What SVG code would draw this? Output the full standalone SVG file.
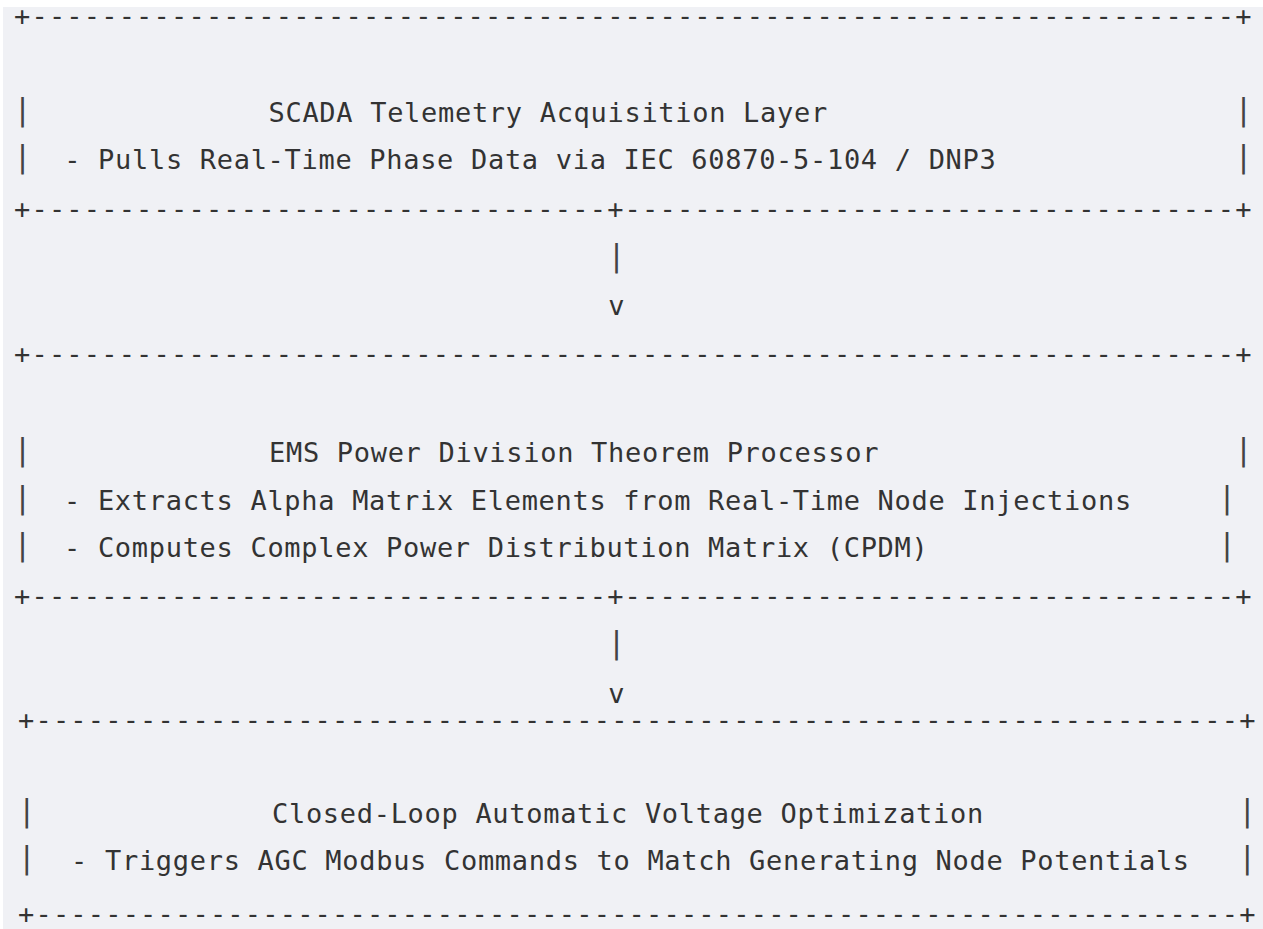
<svg xmlns="http://www.w3.org/2000/svg" width="1263" height="929" viewBox="0 0 1263 929">
  <style>
    .t { font-family: "DejaVu Sans Mono", "Liberation Mono", monospace; font-size: 27px; fill: #333; }
    .txt { letter-spacing: 0.695px; }
    .rule { letter-spacing: 1.19px; }
    .bar { font-family: "DejaVu Sans Mono", "Liberation Mono", monospace; font-size: 30px; fill: #444; text-anchor: middle; }
    .mid { text-anchor: middle; }
  </style>

  <!-- page and code panel -->
  <rect x="0" y="0" width="1263" height="929" fill="#ffffff"/>
  <rect x="3" y="7" width="1260" height="922" fill="#f0f1f5"/>

  <!-- SCADA layer -->
  <g id="node-scada">
    <text class="t rule" x="14" y="24.8">+---------------------------------------------------------------------+</text>
    <text class="bar" x="22.5" y="120">|</text>
    <text class="t txt" x="268.5" y="122">SCADA Telemetry Acquisition Layer</text>
    <text class="bar" x="1243.5" y="120">|</text>
    <text class="bar" x="22.5" y="167">|</text>
    <text class="t txt" x="64.2" y="168.5">- Pulls Real-Time Phase Data via IEC 60870-5-104 / DNP3</text>
    <text class="bar" x="1243.5" y="167">|</text>
    <text class="t rule" x="14" y="217.5">+---------------------------------+-----------------------------------+</text>
  </g>

  <!-- EMS processor -->
  <g id="node-ems">
    <text class="t rule" x="14" y="362.5">+---------------------------------------------------------------------+</text>
    <text class="bar" x="22.5" y="460">|</text>
    <text class="t txt" x="269" y="462">EMS Power Division Theorem Processor</text>
    <text class="bar" x="1243.5" y="460">|</text>
    <text class="bar" x="22.5" y="508">|</text>
    <text class="t txt" x="64" y="510">- Extracts Alpha Matrix Elements from Real-Time Node Injections</text>
    <text class="bar" x="1227" y="508">|</text>
    <text class="bar" x="22.5" y="555">|</text>
    <text class="t txt" x="64" y="557">- Computes Complex Power Distribution Matrix (CPDM)</text>
    <text class="bar" x="1227" y="555">|</text>
    <text class="t rule" x="14" y="605">+---------------------------------+-----------------------------------+</text>
  </g>

  <!-- Voltage optimisation loop -->
  <g id="node-avo">
    <text class="t rule" x="18" y="729">+---------------------------------------------------------------------+</text>
    <text class="bar" x="26.7" y="821">|</text>
    <text class="t txt" x="272" y="823">Closed-Loop Automatic Voltage Optimization</text>
    <text class="bar" x="1247.3" y="821">|</text>
    <text class="bar" x="26.7" y="868">|</text>
    <text class="t txt" x="71.1" y="870">- Triggers AGC Modbus Commands to Match Generating Node Potentials</text>
    <text class="bar" x="1247.3" y="868">|</text>
    <text class="t rule" x="18" y="922.5">+---------------------------------------------------------------------+</text>
  </g>

  <!-- flow arrows between layers -->
  <g id="connectors">
    <text class="bar" x="616.5" y="266">|</text>
    <text class="t mid" x="616.5" y="315">v</text>
    <text class="bar" x="616.5" y="653">|</text>
    <text class="t mid" x="616.5" y="703">v</text>
  </g>
</svg>
